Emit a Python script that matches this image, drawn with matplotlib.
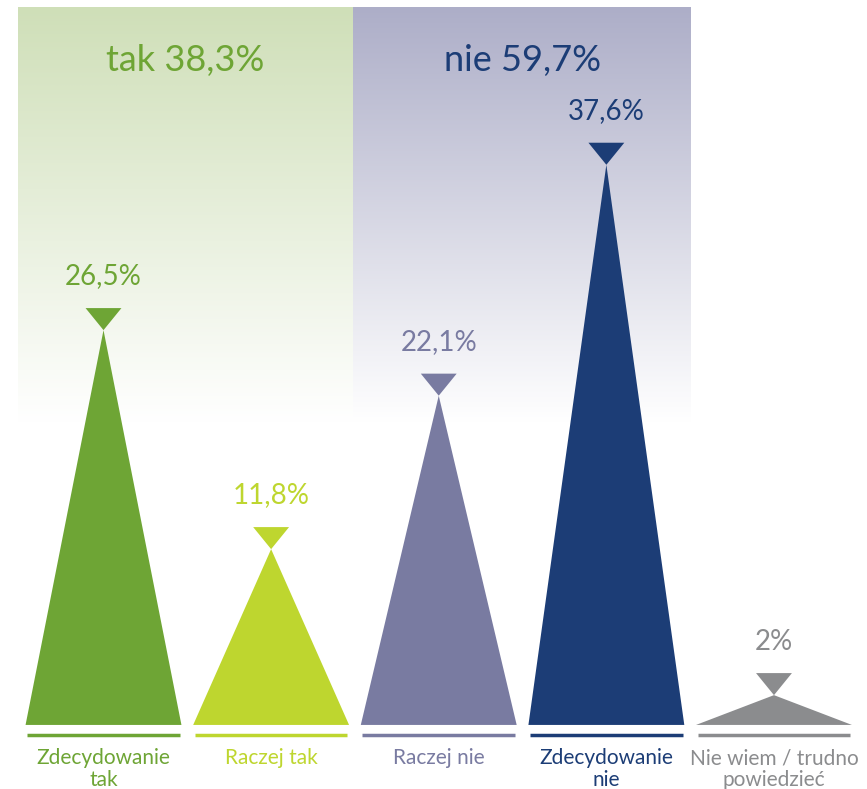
import numpy as np
import matplotlib
matplotlib.use("Agg")
import matplotlib.pyplot as plt
from matplotlib.colors import to_rgb

plt.rcParams['font.family'] = ['Lato', 'DejaVu Sans']

# data
categories = ["Zdecydowanie\ntak", "Raczej tak", "Raczej nie", "Zdecydowanie\nnie", "Nie wiem / trudno\npowiedzieć"]
values = [26.5, 11.8, 22.1, 37.6, 2.0]
value_labels = ["26,5%", "11,8%", "22,1%", "37,6%", "2%"]
colors = ["#6ea535", "#bed62f", "#797ba1", "#1c3d76", "#8b8c8e"]
group_labels = ["tak 38,3%", "nie 59,7%"]
group_colors = ["#6ea535", "#1c3d76"]
group_bg = ["#cfdfb8", "#adaec8"]

fig = plt.figure(figsize=(8.67, 7.89), dpi=100)
ax = fig.add_axes([0, 0, 1, 1])
ax.set_xlim(-0.6175, 4.555)
ax.set_ylim(-4.3, 48.66)
ax.axis("off")

# gradient panels behind the two groups
grad_top, grad_bot = 48.2, 20.3
panels = [(-0.51, 1.489), (1.489, 3.50)]
for (x0, x1), c in zip(panels, group_bg):
    t = np.linspace(0, 1, 256)[:, None]
    rgb = np.array(to_rgb(c))
    img = (1 - t)[..., None] * rgb + t[..., None] * np.ones(3)
    img = np.repeat(img, 2, axis=1)
    ax.imshow(img, extent=(x0, x1, grad_bot, grad_top), aspect="auto",
              interpolation="bilinear", zorder=0)

ax.text(0.49, 44.6, group_labels[0], ha="center", va="center", fontsize=26,
        color=group_colors[0], zorder=3)
ax.text(2.50, 44.6, group_labels[1], ha="center", va="center", fontsize=26,
        color=group_colors[1], zorder=3)

half = 0.465
mk_w = 0.107
mk_h = 1.48
for i, (v, lab, c) in enumerate(zip(values, value_labels, colors)):
    ax.fill([i - half, i, i + half], [0, v, 0], color=c, lw=0, zorder=2)
    ax.fill([i - mk_w, i + mk_w, i], [v + mk_h, v + mk_h, v], color=c, lw=0, zorder=2)
    ax.text(i, v + 3.6, lab, ha="center", va="center", fontsize=20,
            color=c, zorder=3)
    ax.plot([i - half + 0.01, i + half - 0.01], [-0.65, -0.65], color=c, lw=2.5,
            solid_capstyle="butt", zorder=2)
    ax.text(i, -1.55, categories[i], ha="center", va="top", fontsize=15,
            color=c, linespacing=1.15, zorder=3)

fig.savefig("out.png", dpi=100)
